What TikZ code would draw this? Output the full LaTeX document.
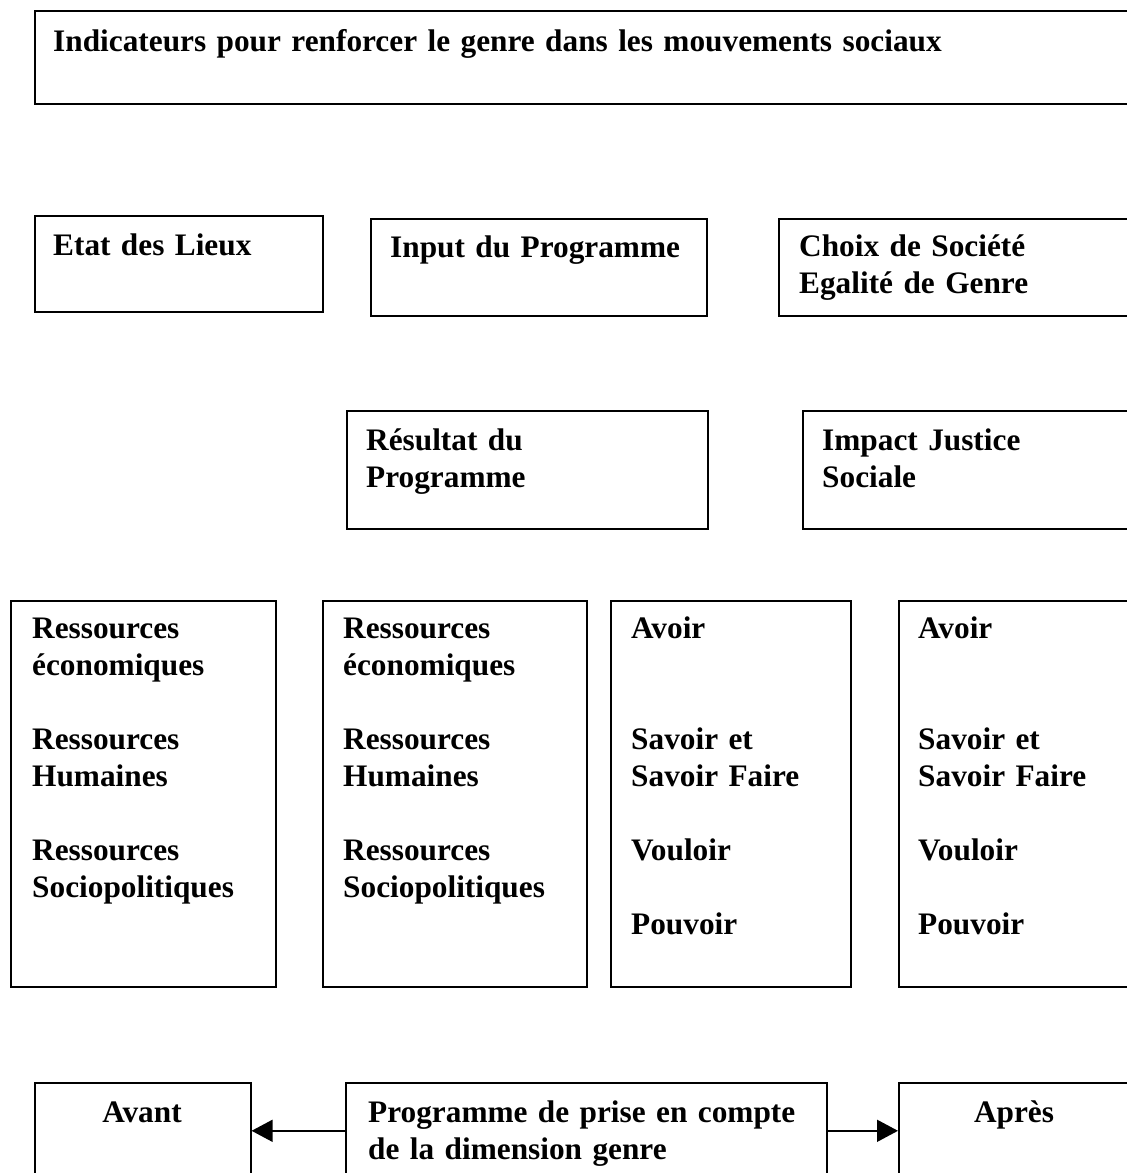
\documentclass[tikz,border=0pt]{standalone}
\usepackage{fontspec}
\setmainfont{Liberation Serif}
\usetikzlibrary{arrows.meta}
\begin{document}
\begin{tikzpicture}[x=1pt,y=-1pt,
  box/.style={draw,line width=1.6pt,inner sep=0pt,anchor=north west},
  txt/.style={anchor=base west,inner sep=0pt,align=left,text width=700pt,
    font=\fontsize{31.3}{37}\selectfont\bfseries},
  ctxt/.style={anchor=base,inner sep=0pt,font=\fontsize{31.3}{37}\selectfont\bfseries},
  arr/.style={line width=1.6pt,-{Triangle[length=21pt,width=22pt]}}]
\useasboundingbox (0,0) rectangle (1127,1173);
\clip (0,0) rectangle (1127,1173);
% title
\node[box,minimum width=1110,minimum height=93] (title) at (34,10) {};
\node[txt,text width=1000pt] (ttitle) at (53,51) {Indicateurs pour renforcer le genre dans les mouvements sociaux};
% row 2
\node[box,minimum width=288,minimum height=96] (etat) at (34,215) {};
\node[txt] (tetat) at (53,255) {Etat des Lieux};
\node[box,minimum width=336,minimum height=97] (input) at (370,218) {};
\node[txt] (tinput) at (390,257) {Input du Programme};
\node[box,minimum width=370,minimum height=97] (choix) at (778,218) {};
\node[txt] (tchoix) at (799,256) {Choix de Société\\Egalité de Genre};
% row 3
\node[box,minimum width=361,minimum height=118] (resultat) at (346,410) {};
\node[txt] (tresultat) at (366,450) {Résultat du\\Programme};
\node[box,minimum width=350,minimum height=118] (impact) at (802,410) {};
\node[txt] (timpact) at (822,450) {Impact Justice\\Sociale};
% row 4
\node[box,minimum width=265,minimum height=386] (c1) at (10,600) {};
\node[txt] (tc1) at (32,638) {Ressources\\économiques\\[37pt]Ressources\\Humaines\\[37pt]Ressources\\Sociopolitiques};
\node[box,minimum width=264,minimum height=386] (c2) at (322,600) {};
\node[txt] (tc2) at (343,638) {Ressources\\économiques\\[37pt]Ressources\\Humaines\\[37pt]Ressources\\Sociopolitiques};
\node[box,minimum width=240,minimum height=386] (c3) at (610,600) {};
\node[txt] (tc3) at (631,638) {Avoir\\[74pt]Savoir et\\Savoir Faire\\[37pt]Vouloir\\[37pt]Pouvoir};
\node[box,minimum width=260,minimum height=386] (c4) at (898,600) {};
\node[txt] (tc4) at (918,638) {Avoir\\[74pt]Savoir et\\Savoir Faire\\[37pt]Vouloir\\[37pt]Pouvoir};
% bottom row
\node[box,minimum width=216,minimum height=96] (avant) at (34,1082) {};
\node[ctxt] (tavant) at (142,1122) {Avant};
\node[box,minimum width=481,minimum height=96] (prog) at (345,1082) {};
\node[txt] (tprog) at (368,1122) {Programme de prise en compte\\de la dimension genre};
\node[box,minimum width=232,minimum height=96] (apres) at (898,1082) {};
\node[ctxt] (tapres) at (1014,1122) {Après};
\draw[arr] (prog.west) -- (avant.east);
\draw[arr] (prog.east) -- (apres.west);
\end{tikzpicture}
\end{document}
